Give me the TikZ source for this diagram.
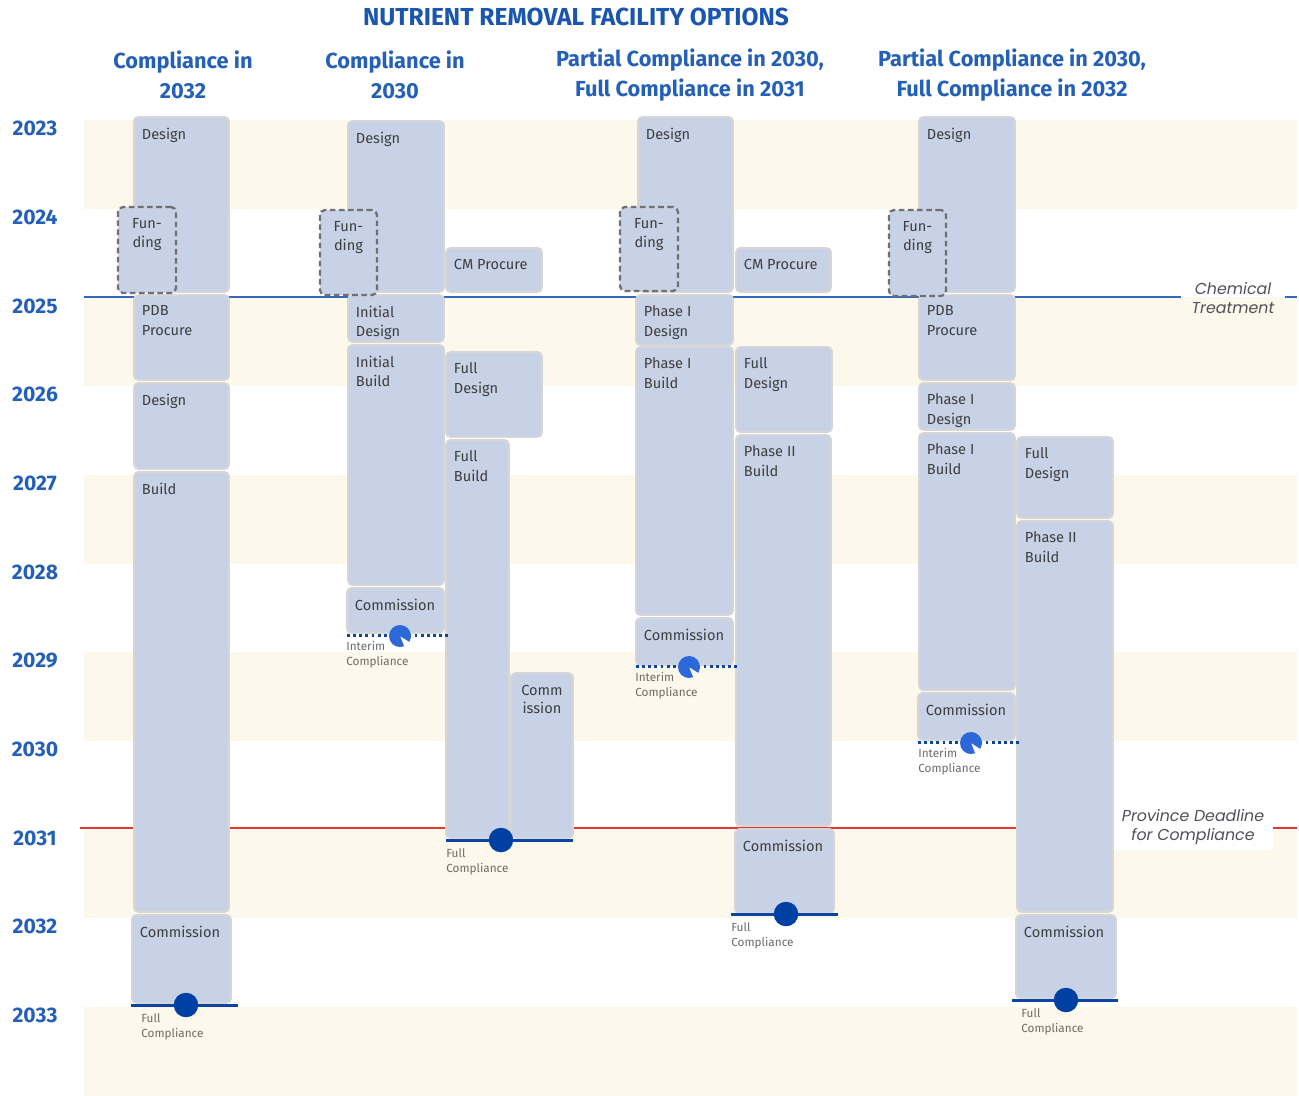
\documentclass[tikz,border=0pt]{standalone}
\usepackage{fontspec}
\setmainfont{Fira Sans}
\newfontfamily\notefont{Poppins}
\usetikzlibrary{calc}

\definecolor{bandcream}{HTML}{FDF8EC}
\definecolor{boxfill}{HTML}{C8D2E6}
\definecolor{boxedge}{HTML}{D6D6D6}
\definecolor{fundedge}{HTML}{707070}
\definecolor{headblue}{HTML}{2560B8}
\definecolor{titleblue}{HTML}{1A56B0}
\definecolor{chemblue}{HTML}{3368BE}
\definecolor{deadred}{HTML}{E8352C}
\definecolor{fullblue}{HTML}{0A45A6}
\definecolor{dotblue}{HTML}{0040A4}
\definecolor{pacblue}{HTML}{2C68D8}
\definecolor{boxtext}{HTML}{3E3E3E}
\definecolor{smallgray}{HTML}{6E6A66}
\definecolor{notegray}{HTML}{505058}

\tikzset{
  band/.style={fill=bandcream, draw=none},
  stagebox/.style={draw=boxedge, line width=1.1pt, fill=boxfill,
    rounded corners=0.09cm, inner sep=0pt},
  fundbox/.style={draw=fundedge, line width=1.3pt, fill=boxfill,
    dash pattern={on 3.2pt off 2pt}, rounded corners=0.1cm, inner sep=0pt},
  stagetext/.style={anchor=north west, align=left, inner sep=2pt,
    text=boxtext, font=\fontsize{8.3}{11.2}\selectfont},
  centretext/.style={anchor=north, align=center, inner sep=2pt,
    text=boxtext, font=\fontsize{8.3}{10.4}\selectfont},
  yearlabel/.style={text=headblue, font=\fontsize{12}{12}\selectfont\bfseries},
  colhead/.style={text=headblue, align=center,
    font=\fontsize{12.4}{17}\selectfont\bfseries},
  smalltext/.style={anchor=north west, align=left, inner sep=0pt,
    text=smallgray, font=\fontsize{6.7}{8.5}\selectfont},
  notetext/.style={align=center, text=notegray,
    font=\fontsize{9}{11.2}\selectfont\notefont\itshape},
  chemline/.style={draw=chemblue, line width=1.4pt},
  deadline/.style={draw=deadred, line width=1.4pt},
  fullline/.style={draw=fullblue, line width=1.7pt},
  interimline/.style={draw=fullblue, line width=1.7pt,
    dash pattern={on 1.6pt off 1.9pt}},
  fulldot/.style={circle, fill=dotblue, minimum size=0.49cm, inner sep=0pt},
  pacman/.style={fill=pacblue},
}

% a stage bar: name, x1, y1, x2, y2, text
\newcommand\stage[6]{%
  \node[stagebox, minimum width={(#4-#2)*0.02cm}, minimum height={(#5-#3)*0.02cm}]
    (#1) at ({(#2+#4)/2},{(#3+#5)/2}) {};
  \node[stagetext] (#1-t) at ([shift={(5,8)}]#1.north west) {#6};}
% a narrow stage bar with centred text
\newcommand\narrowstage[6]{%
  \node[stagebox, minimum width={(#4-#2)*0.02cm}, minimum height={(#5-#3)*0.02cm}]
    (#1) at ({(#2+#4)/2},{(#3+#5)/2}) {};
  \node[centretext] (#1-t) at ([shift={(0,9)}]#1.north) {#6};}
% dashed funding window
\newcommand\funding[5]{%
  \node[fundbox, minimum width={(#4-#2)*0.02cm}, minimum height={(#5-#3)*0.02cm}]
    (#1) at ({(#2+#4)/2},{(#3+#5)/2}) {};
  \node[centretext] (#1-t) at ([shift={(0,9)}]#1.north) {Fun-\\ding};}
% full compliance: name, x1, x2, y, dot x, text x
\newcommand\fullmark[6]{%
  \coordinate (#1-l) at (#2,#4);
  \coordinate (#1-r) at (#3,#4);
  \draw[fullline] (#1-l) -- (#1-r);
  \node[fulldot] (#1) at (#5,#4) {};
  \node[smalltext] (#1-t) at (#6,{#4+8}) {Full\\Compliance};}
% interim compliance: name, x1, x2, y, marker x, text x
\newcommand\interimmark[6]{%
  \coordinate (#1-l) at (#2,#4);
  \coordinate (#1-r) at (#3,#4);
  \draw[interimline] (#1-l) -- (#1-r);
  \coordinate (#1) at (#5,{#4+1});
  \fill[pacman] (#1) -- ++(68:11) arc[start angle=68, end angle=392, radius=11] -- cycle;
  \node[smalltext] (#1-t) at (#6,{#4+6}) {Interim\\Compliance};}

\begin{document}
\begin{tikzpicture}[x=0.02cm, y=-0.02cm]
\useasboundingbox (0,0) rectangle (1299,1096);
\fill[white] (0,0) rectangle (1299,1096);

% year bands
\foreach \t in {120,297.4,474.8,652,829.6,1007}
  \fill[band] (84,\t) rectangle (1297,{min(\t+88.7,1096)});

% year labels
\foreach \yr [count=\i from 0] in {2023,2024,...,2033}
  \node[yearlabel] (year\yr) at (35,{128.5+88.7*\i}) {\yr};

% titles
\node[text=titleblue, font=\fontsize{14}{16}\selectfont\bfseries] (title) at (576,17)
  {NUTRIENT REMOVAL FACILITY OPTIONS};
\node[colhead] (head1) at (183,75) {Compliance in\\2032};
\node[colhead] (head2) at (395,75) {Compliance in\\2030};
\node[colhead] (head3) at (690,75) {Partial Compliance in 2030,\\Full Compliance in 2031};
\node[colhead] (head4) at (1012,75) {Partial Compliance in 2030,\\Full Compliance in 2032};

% reference lines
\node[notetext, inner xsep=0.2cm, inner ysep=1pt] (chem) at (1233,298)
  {Chemical\\Treatment};
\coordinate (chemL) at (84,297);
\coordinate (chemR) at (1297,297);
\draw[chemline] (chemL) -- (chem.west |- chemL);
\draw[chemline] (chem.east |- chemR) -- (chemR);

\coordinate (deadL) at (80,828);
\coordinate (deadR) at (1297,828);
\draw[deadline] (deadL) -- (deadR);
\node[notetext, fill=white, minimum width=3.2cm, inner ysep=3pt] (prov) at (1193,827)
  {Province Deadline\\for Compliance};

% option 1: compliance in 2032
\stage{a1}{134}{117}{229}{292}{Design}
\stage{a2}{134}{295}{229}{380}{PDB\\Procure}
\stage{a3}{134}{383}{229}{469}{Design}
\stage{a4}{134}{472}{229}{912}{Build}
\stage{a5}{132}{915}{231}{1003}{Commission}
\funding{af}{118}{207}{176}{293}
\fullmark{afull}{131}{238}{1005}{186}{141}

% option 2: compliance in 2030
\stage{b1}{348}{121}{444}{292}{Design}
\stage{b2}{446}{248}{542}{292}{CM Procure}
\stage{b3}{348}{295}{444}{342}{Initial\\Design}
\stage{b4}{348}{345}{444}{585}{Initial\\Build}
\stage{b5}{347}{588}{444}{633}{Commission}
\stage{b6}{446}{352}{542}{437}{Full\\Design}
\stage{b7}{446}{440}{509}{838}{Full\\Build}
\narrowstage{b8}{511}{673}{573}{838}{Comm\\ission}
\funding{bf}{320}{210}{377}{295}
\interimmark{bint}{347}{450}{635}{400}{346}
\fullmark{bfull}{446}{573}{840}{501}{446}

% option 3: partial 2030, full 2031
\stage{c1}{638}{117}{733}{292}{Design}
\stage{c2}{736}{248}{831}{292}{CM Procure}
\stage{c3}{636}{295}{733}{345}{Phase I\\Design}
\stage{c4}{636}{347}{733}{615}{Phase I\\Build}
\stage{c5}{636}{618}{733}{665}{Commission}
\stage{c6}{736}{347}{832}{432}{Full\\Design}
\stage{c7}{736}{435}{831}{826}{Phase II\\Build}
\stage{c8}{735}{829}{834}{913}{Commission}
\funding{cf}{620}{207}{678}{291}
\interimmark{cint}{636}{739}{666}{689}{635}
\fullmark{cfull}{731}{838}{914}{786}{731}

% option 4: partial 2030, full 2032
\stage{d1}{919}{117}{1015}{292}{Design}
\stage{d2}{919}{295}{1015}{380}{PDB\\Procure}
\stage{d3}{919}{383}{1015}{430}{Phase I\\Design}
\stage{d4}{919}{433}{1015}{690}{Phase I\\Build}
\stage{d5}{918}{693}{1015}{740}{Commission}
\stage{d6}{1017}{437}{1113}{518}{Full\\Design}
\stage{d7}{1017}{521}{1113}{912}{Phase II\\Build}
\stage{d8}{1016}{915}{1116}{998}{Commission}
\funding{df}{889}{210}{946}{296}
\interimmark{dint}{918}{1020}{742}{971}{918}
\fullmark{dfull}{1012}{1118}{1000}{1066}{1021}
\end{tikzpicture}
\end{document}
